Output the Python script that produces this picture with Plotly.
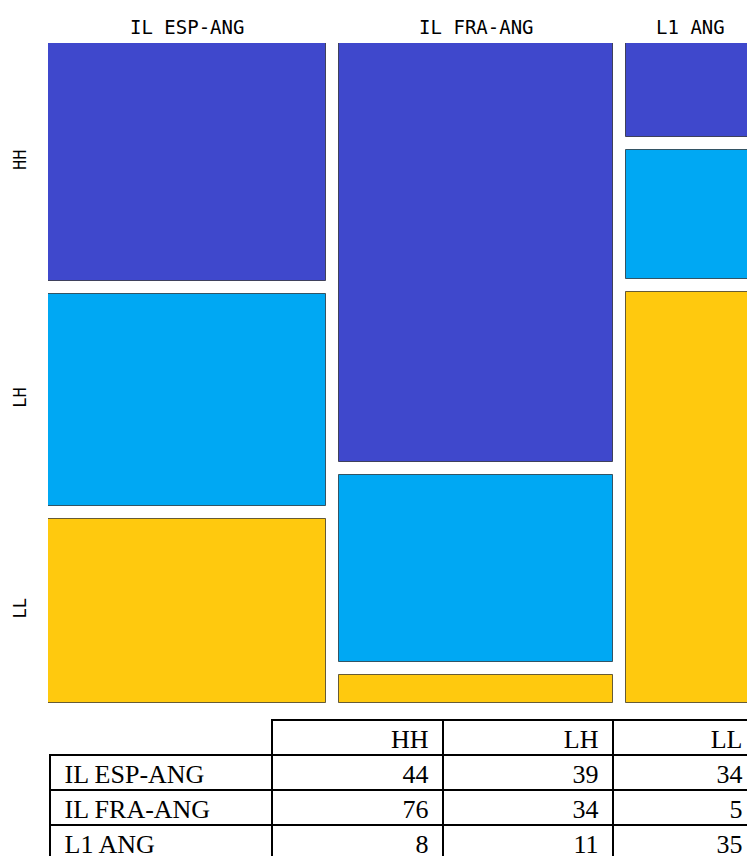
import plotly.graph_objects as go

# ---- data ----
groups = ["IL ESP-ANG", "IL FRA-ANG", "L1 ANG"]
levels = ["HH", "LH", "LL"]
hh = [44, 76, 8]
lh = [39, 34, 11]
ll = [34, 5, 35]

colors = {"HH": "#3F48CC", "LH": "#00A8F3", "LL": "#FFC90E"}

# ---- layout constants (pixels) ----
W, H = 790, 880
plot_left, plot_top, plot_bottom = 48, 43, 703
px_per_unit = 2.38
gap_px = 13
table_top = 720

series = {"HH": hh, "LH": lh, "LL": ll}
totals = [hh[i] + lh[i] + ll[i] for i in range(len(groups))]
gap_x = gap_px / px_per_unit
gap_y = gap_px / float(plot_bottom - plot_top)
avail = 1 - gap_y * (len(levels) - 1)

# x positions (in count units)
lefts = []
acc = 0.0
for t in totals:
    lefts.append(acc)
    acc += t + gap_x
x_total = acc - gap_x
centers = [lefts[i] + totals[i] / 2.0 for i in range(len(groups))]

fig = go.Figure()
bases_acc = [0.0] * len(groups)
tick_centers = []
for k, lev in enumerate(levels):
    vals = series[lev]
    heights = [vals[i] / totals[i] * avail for i in range(len(groups))]
    bases = [bases_acc[i] + k * gap_y for i in range(len(groups))]
    tick_centers.append(bases[0] + heights[0] / 2)
    fig.add_trace(go.Bar(
        x=centers, y=heights, base=bases, width=totals,
        marker=dict(color=colors[lev], line=dict(color="rgba(0,0,0,0.6)", width=1)),
        name=lev, hoverinfo="skip", showlegend=False,
    ))
    bases_acc = [bases_acc[i] + heights[i] for i in range(len(groups))]

x_end_px = plot_left + x_total * px_per_unit

fig.add_trace(go.Table(
    domain=dict(x=[50 / W, 757 / W], y=[0, 1 - table_top / H]),
    columnwidth=[222, 171, 170, 144],
    header=dict(
        values=[""] + [l + "\u00a0" for l in levels],
        fill=dict(color=["rgba(0,0,0,0)", "white", "white", "white"]),
        line=dict(color=["rgba(0,0,0,0)", "black", "black", "black"], width=2),
        align=["left", "right", "right", "right"],
        font=dict(family="Liberation Serif", size=26, color="black"),
        height=35,
    ),
    cells=dict(
        values=[["\u00a0" + g for g in groups],
                [str(v) + "\u00a0" for v in hh],
                [str(v) + "\u00a0" for v in lh],
                [str(v) + "\u00a0" for v in ll]],
        fill=dict(color="white"),
        line=dict(color="black", width=2),
        align=["left", "right", "right", "right"],
        font=dict(family="Liberation Serif", size=26, color="black"),
        height=35,
    ),
))

fig.update_layout(
    width=W, height=H,
    margin=dict(l=0, r=0, t=0, b=0),
    paper_bgcolor="white", plot_bgcolor="white",
    barmode="overlay", bargap=0,
    showlegend=False,
    xaxis=dict(
        domain=[plot_left / W, x_end_px / W],
        range=[0, x_total], side="top",
        tickvals=centers, ticktext=groups,
        showgrid=False, zeroline=False, showline=False, ticks="",
        tickfont=dict(family="DejaVu Sans Mono", size=19, color="black"),
        ticklabelstandoff=4,
    ),
    yaxis=dict(
        domain=[1 - plot_bottom / H, 1 - plot_top / H],
        range=[1, 0],
        tickvals=tick_centers, ticktext=levels, tickangle=-90,
        showgrid=False, zeroline=False, showline=False, ticks="",
        tickfont=dict(family="DejaVu Sans Mono", size=17, color="black"),
        ticklabelstandoff=18,
    ),
)

fig.write_html(
    "out.html",
    config={"displayModeBar": False},
    post_script="document.body.style.margin='0';document.body.style.overflow='hidden';",
)
